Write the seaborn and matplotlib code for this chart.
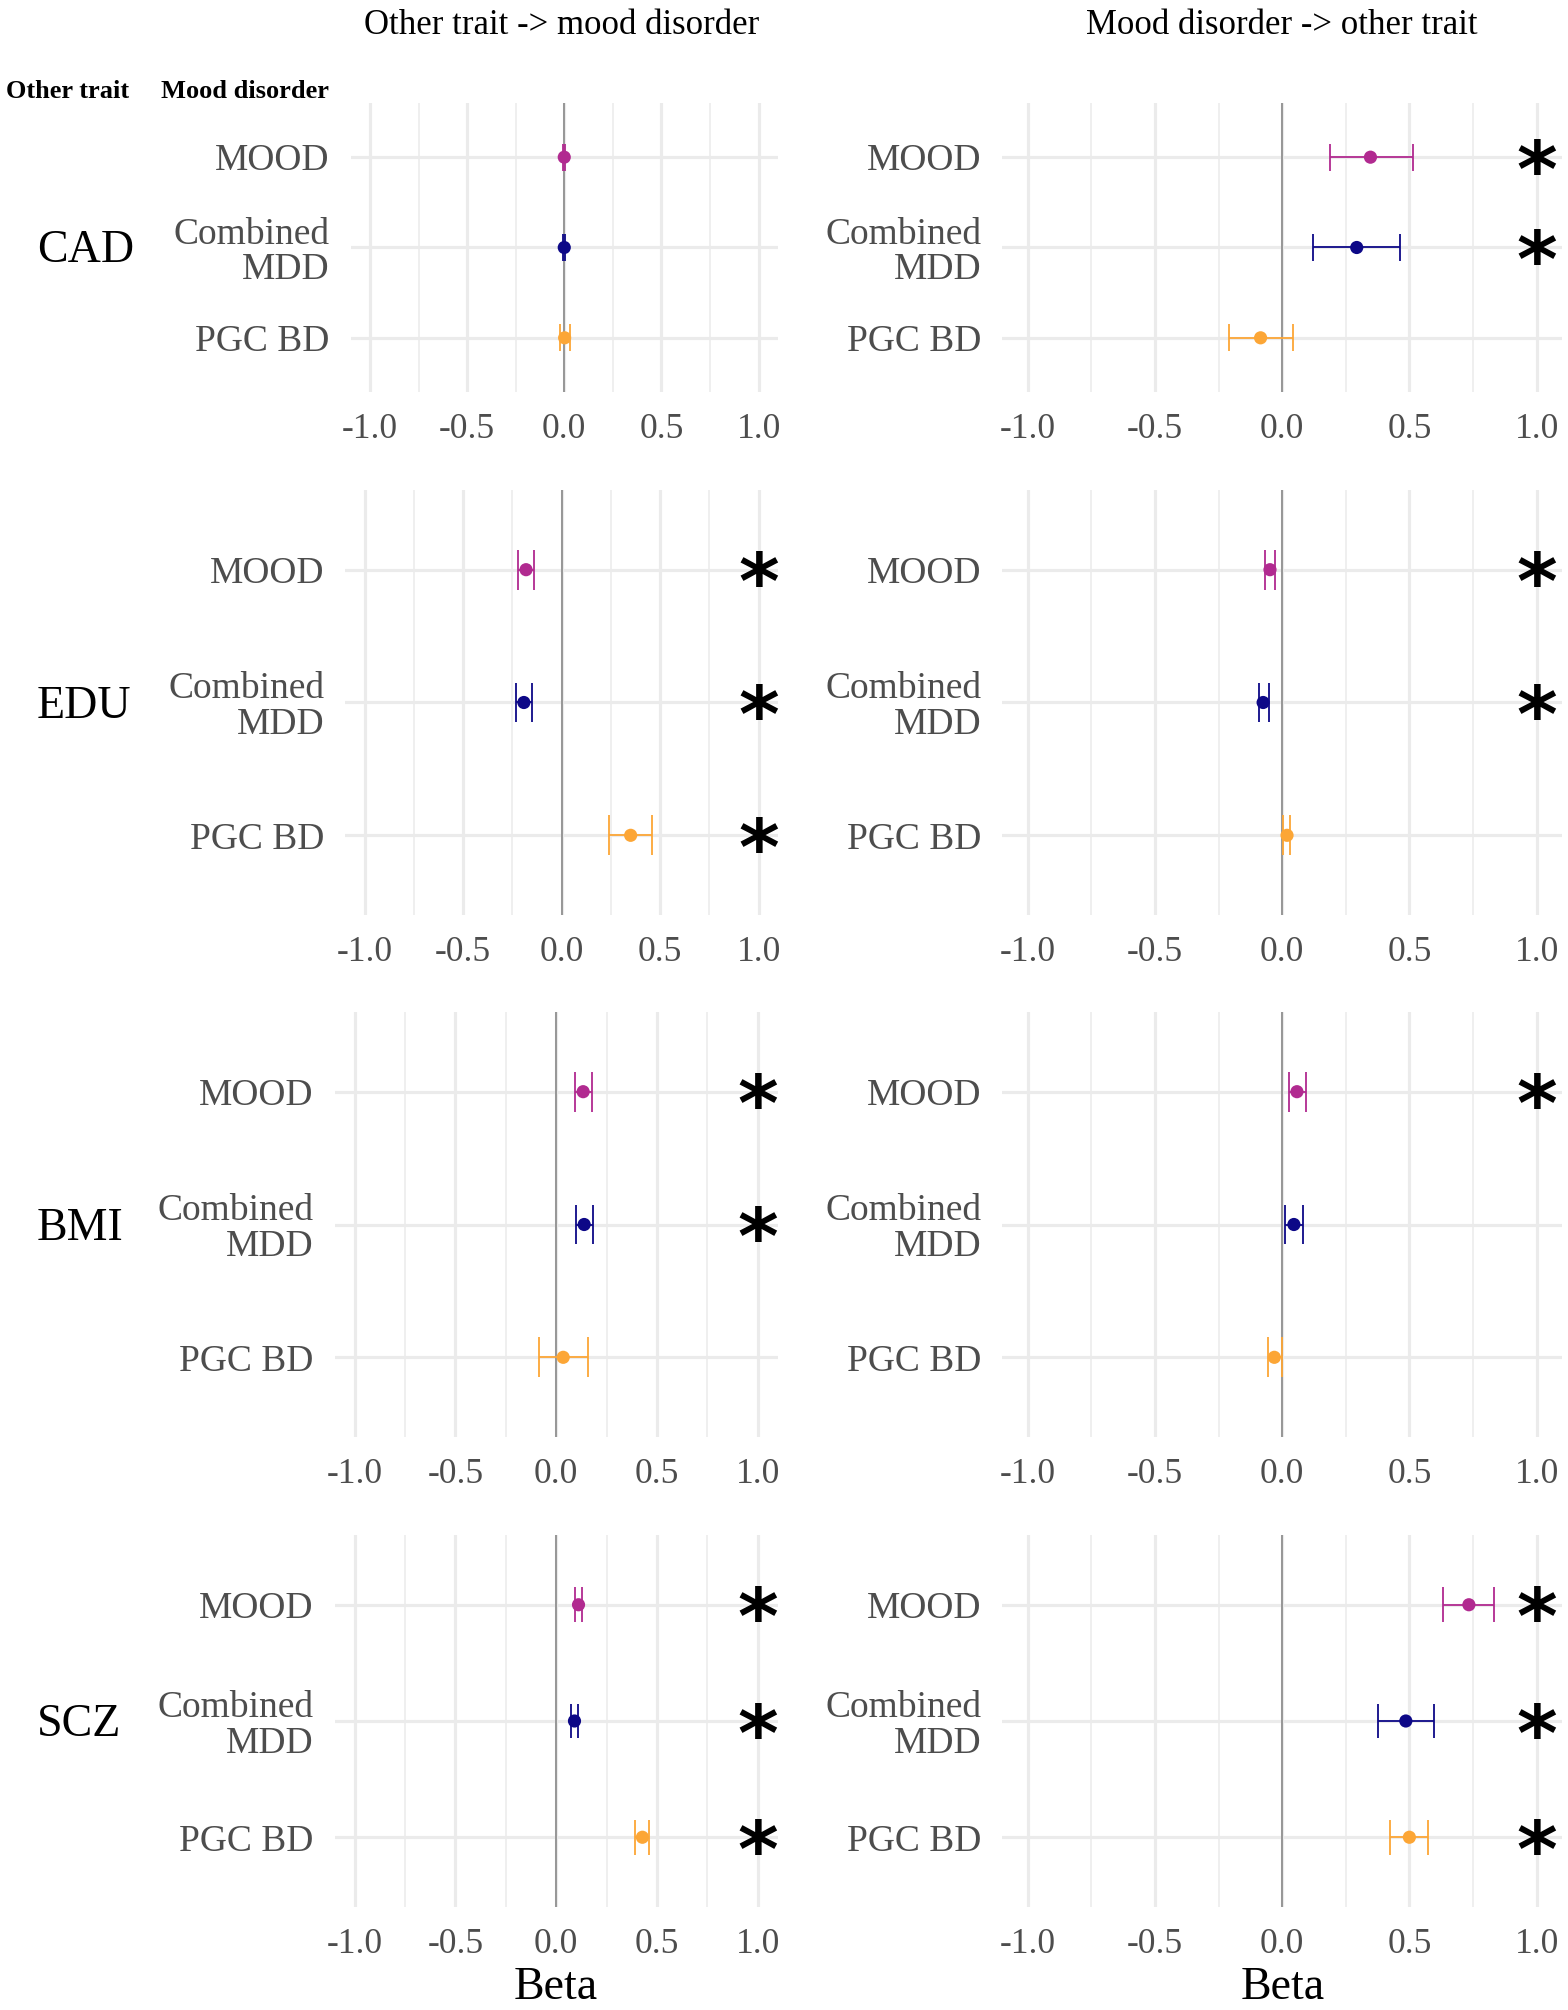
import matplotlib
matplotlib.use("Agg")
import matplotlib.pyplot as plt
from matplotlib.transforms import ScaledTranslation
import numpy as np
import pandas as pd
import seaborn as sns

# ---------------- data ----------------
traits = ["CAD", "EDU", "BMI", "SCZ"]
disorders = ["MOOD", "Combined MDD", "PGC BD"]
disorder_labels = ["MOOD", "Combined\nMDD", "PGC BD"]
column_titles = ["Other trait -> mood disorder", "Mood disorder -> other trait"]
palette = {"MOOD": "#B12A90", "Combined MDD": "#0D0887", "PGC BD": "#FCA636"}
x_ticks = [-1.0, -0.5, 0.0, 0.5, 1.0]
x_tick_labels = ["-1.0", "-0.5", "0.0", "0.5", "1.0"]

# Other trait -> mood disorder (rows: MOOD, Combined MDD, PGC BD)
fwd_beta = [[0.000, 0.000, 0.002],
            [-0.181, -0.192, 0.350],
            [0.134, 0.139, 0.035],
            [0.111, 0.091, 0.428]]
fwd_lo = [[-0.004, -0.004, -0.024],
          [-0.220, -0.233, 0.241],
          [0.094, 0.099, -0.084],
          [0.096, 0.076, 0.390]]
fwd_hi = [[0.004, 0.004, 0.028],
          [-0.142, -0.153, 0.456],
          [0.180, 0.182, 0.159],
          [0.127, 0.106, 0.463]]
fwd_sig = [[0, 0, 0], [1, 1, 1], [1, 1, 0], [1, 1, 1]]

# Mood disorder -> other trait
rev_beta = [[0.347, 0.293, -0.085],
            [-0.048, -0.075, 0.019],
            [0.058, 0.046, -0.031],
            [0.734, 0.486, 0.500]]
rev_lo = [[0.189, 0.122, -0.210],
          [-0.066, -0.093, 0.004],
          [0.025, 0.010, -0.056],
          [0.633, 0.376, 0.425]]
rev_hi = [[0.515, 0.465, 0.042],
          [-0.029, -0.052, 0.029],
          [0.095, 0.081, -0.002],
          [0.834, 0.595, 0.575]]
rev_sig = [[1, 1, 0], [1, 1, 0], [1, 0, 0], [1, 1, 1]]

# ---------------- style ----------------
sns.set_theme(style="white")
plt.rcParams["font.family"] = ["Liberation Serif", "DejaVu Serif"]

W, H = 1568, 2010
fig = plt.figure(figsize=(W / 100, H / 100), dpi=100)
fig.patch.set_facecolor("white")

# panel rectangles in pixels: left, top, right, bottom
left_rects = [(350.5, 103, 778, 392), (345, 490, 778.4, 915),
              (334.5, 1012, 777.8, 1437), (334.5, 1535, 777.8, 1907)]
right_rects = [(1002.4, 103, 1562, 392), (1002.4, 490, 1562, 915),
               (1002.4, 1012, 1562, 1437), (1002.4, 1535, 1562, 1907)]


def make_ax(r):
    l, t, rr, b = r
    return fig.add_axes([l / W, 1 - b / H, (rr - l) / W, (b - t) / H])


def draw_panel(ax, beta, lo, hi, sig, bottom):
    df = pd.DataFrame({"disorder": disorders, "row": np.arange(3),
                       "beta": beta, "lo": lo, "hi": hi, "sig": sig})
    ax.set_xlim(-1.1, 1.1)
    ax.set_ylim(2.6, -0.6)
    ax.set_xticks(x_ticks)
    ax.set_xticklabels(x_tick_labels)
    ax.set_xticks([-0.75, -0.25, 0.25, 0.75], minor=True)
    ax.set_yticks([0, 1, 2])
    ax.set_yticklabels(disorder_labels, linespacing=1.05)
    for s in ax.spines.values():
        s.set_visible(False)
    ax.set_facecolor("white")
    ax.set_axisbelow(True)
    ax.grid(which="major", axis="both", color="#EBEBEB", lw=2.3)
    ax.grid(which="minor", axis="x", color="#EBEBEB", lw=1.1)
    ax.tick_params(axis="both", which="major", length=7, width=1.9,
                   color="#333333", labelcolor="#4D4D4D", labelsize=25.5)
    ax.tick_params(axis="x", which="minor", length=0)
    ax.tick_params(axis="x", which="major", pad=8)
    ax.tick_params(axis="y", which="major", pad=8, labelsize=27)
    ax.axvline(0, color="#7F7F7F", lw=1.1, zorder=1.5)
    for _, rw in df.iterrows():
        c = palette[rw["disorder"]]
        ax.hlines(rw["row"], rw["lo"], rw["hi"], color=c, lw=1.3, zorder=2)
        ax.vlines([rw["lo"], rw["hi"]], rw["row"] - 0.15, rw["row"] + 0.15,
                  color=c, lw=1.3, zorder=2)
    sns.scatterplot(data=df, x="beta", y="row", hue="disorder", palette=palette,
                    s=90, linewidth=0, legend=False, ax=ax, zorder=3)
    fs = 56
    off = ScaledTranslation(0, -0.51 * fs / 72, fig.dpi_scale_trans)
    for _, rw in df[df["sig"] == 1].iterrows():
        ax.text(1.0, rw["row"], "*", ha="center", va="baseline",
                fontsize=fs, fontweight="bold", family="DejaVu Sans",
                color="black", transform=ax.transData + off, zorder=4)
    ax.set_ylabel("")
    if bottom:
        ax.set_xlabel("Beta", fontsize=33, color="black", labelpad=4)
    else:
        ax.set_xlabel("")


for i, trait in enumerate(traits):
    axl = make_ax(left_rects[i])
    draw_panel(axl, fwd_beta[i], fwd_lo[i], fwd_hi[i], fwd_sig[i], i == 3)
    axr = make_ax(right_rects[i])
    draw_panel(axr, rev_beta[i], rev_lo[i], rev_hi[i], rev_sig[i], i == 3)
    toff = ScaledTranslation(0, -0.15, fig.dpi_scale_trans)
    axl.text(37 / W, 1, trait, ha="left", va="baseline", fontsize=33,
             color="black",
             transform=matplotlib.transforms.blended_transform_factory(
                 fig.transFigure, axl.transData) + toff)

fig.text(562 / W, 1 - 25 / H, column_titles[0], ha="center", va="center",
         fontsize=25, color="black")
fig.text(1282 / W, 1 - 25 / H, column_titles[1], ha="center", va="center",
         fontsize=25, color="black")
fig.text(6 / W, 1 - 92 / H, "Other trait", ha="left", va="center",
         fontsize=19, fontweight="bold", color="black")
fig.text(161 / W, 1 - 92 / H, "Mood disorder", ha="left", va="center",
         fontsize=19, fontweight="bold", color="black")

fig.savefig("out.png", dpi=100, facecolor="white")
